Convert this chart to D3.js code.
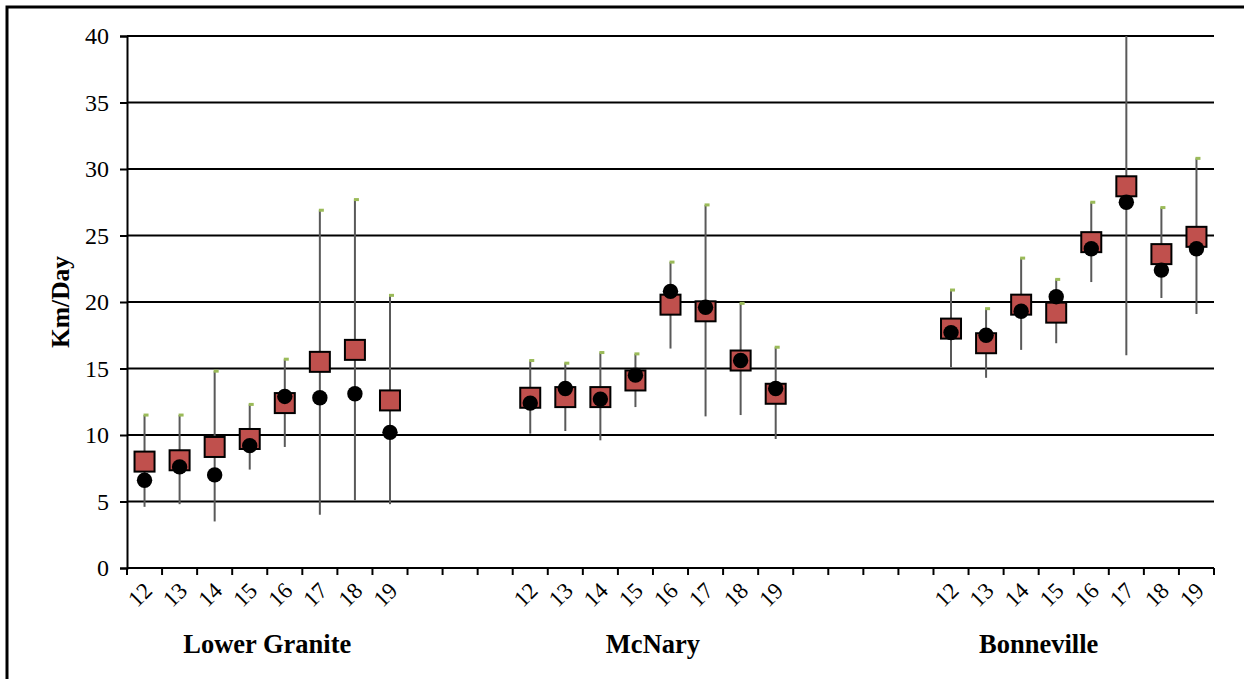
<!DOCTYPE html>
<html>
<head>
<meta charset="utf-8">
<script src="https://cdn.jsdelivr.net/npm/d3@7"></script>
<style>
  html, body { margin: 0; padding: 0; background: #fff; }
  svg { display: block; }
</style>
</head>
<body>
<svg id="chart" width="1244" height="679"></svg>
<script>
// ---- data ----
const years = ["12", "13", "14", "15", "16", "17", "18", "19"];
const groups = ["Lower Granite", "McNary", "Bonneville"];
// category slots along the x axis ("" = empty spacer slot)
const categories = [
  "12","13","14","15","16","17","18","19", "", "", "",
  "12","13","14","15","16","17","18","19", "", "", "", "",
  "12","13","14","15","16","17","18","19"
];
// red squares
const squareLG = [8.0, 8.1, 9.1, 9.7, 12.4, 15.5, 16.4, 12.6];
const squareMN = [12.8, 12.85, 12.85, 14.1, 19.8, 19.3, 15.6, 13.1];
const squareBV = [18.0, 16.9, 19.8, 19.2, 24.5, 28.7, 23.6, 24.9];
// black circles
const circleLG = [6.6, 7.6, 7.0, 9.2, 12.9, 12.8, 13.1, 10.2];
const circleMN = [12.4, 13.5, 12.7, 14.5, 20.8, 19.6, 15.6, 13.5];
const circleBV = [17.7, 17.5, 19.3, 20.4, 24.0, 27.5, 22.4, 24.0];
// range lows / highs
const lowLG = [4.6, 4.8, 3.5, 7.4, 9.1, 4.0, 5.1, 4.8];
const lowMN = [10.1, 10.3, 9.6, 12.1, 16.5, 11.4, 11.5, 9.7];
const lowBV = [15.1, 14.3, 16.4, 16.9, 21.5, 16.0, 20.3, 19.1];
const highLG = [11.5, 11.5, 14.8, 12.3, 15.7, 26.9, 27.7, 20.5];
const highMN = [15.6, 15.4, 16.2, 16.1, 23.0, 27.3, 19.9, 16.6];
const highBV = [20.9, 19.5, 23.3, 21.7, 27.5, 44.0, 27.1, 30.8];
const yTicks = [0, 5, 10, 15, 20, 25, 30, 35, 40];
const yTitle = "Km/Day";

// ---- build rows ----
const seriesByGroup = [
  {sq: squareLG, ci: circleLG, lo: lowLG, hi: highLG},
  {sq: squareMN, ci: circleMN, lo: lowMN, hi: highMN},
  {sq: squareBV, ci: circleBV, lo: lowBV, hi: highBV}
];
const slotIdx = [];
{
  let g = -1, prevBlank = true;
  categories.forEach((c, i) => {
    if (c !== "") {
      if (prevBlank) { g++; slotIdx[g] = []; }
      slotIdx[g].push(i);
      prevBlank = false;
    } else prevBlank = true;
  });
}
const rows = [];
groups.forEach((gName, g) => {
  years.forEach((yr, j) => {
    const s = seriesByGroup[g];
    rows.push({slot: slotIdx[g][j], sq: s.sq[j], ci: s.ci[j], lo: s.lo[j], hi: s.hi[j]});
  });
});

// ---- layout ----
const svg = d3.select("#chart");
const L = 127, R = 1214, T = 36, B = 568;
const serif = "'Liberation Serif', 'Times New Roman', serif";

const x = d3.scaleBand().domain(d3.range(categories.length)).range([L, R]).padding(0);
const y = d3.scaleLinear().domain([0, 40]).range([B, T]);

// outer border
svg.append("rect").attr("x", 7).attr("y", 7).attr("width", 1260).attr("height", 700)
  .attr("fill", "none").attr("stroke", "#000").attr("stroke-width", 3);

// gridlines
svg.append("g").selectAll("line").data(yTicks.filter(d => d > 0)).join("line")
  .attr("x1", L).attr("x2", R).attr("y1", d => y(d)).attr("y2", d => y(d))
  .attr("stroke", "#000").attr("stroke-width", 2);

// y axis
const yAxis = svg.append("g").attr("transform", `translate(${L},0)`)
  .call(d3.axisLeft(y).tickValues(yTicks).tickSize(7).tickPadding(11).tickFormat(d3.format("d")));
yAxis.select(".domain").attr("stroke", "#000").attr("stroke-width", 2);
yAxis.selectAll(".tick line").attr("stroke", "#000").attr("stroke-width", 2);
yAxis.selectAll(".tick text").attr("font-family", serif)
  .attr("font-size", 24).attr("fill", "#000");

// x axis
const xAxisG = svg.append("g").attr("transform", `translate(0,${B})`);
xAxisG.append("line").attr("x1", L).attr("x2", R).attr("y1", 0).attr("y2", 0)
  .attr("stroke", "#000").attr("stroke-width", 2);
const bounds = d3.range(categories.length + 1).map(i => i < categories.length ? x(i) : x(i - 1) + x.bandwidth());
xAxisG.selectAll("line.t").data(bounds).join("line").attr("class", "t")
  .attr("x1", d => d).attr("x2", d => d).attr("y1", 0).attr("y2", 7)
  .attr("stroke", "#000").attr("stroke-width", 2);
xAxisG.selectAll("text.cat").data(categories.map((c, i) => ({c, i})).filter(d => d.c !== "")).join("text")
  .attr("class", "cat")
  .attr("transform", d => `translate(${x(d.i) + x.bandwidth() / 2 + 9},${24}) rotate(-45)`)
  .attr("text-anchor", "end")
  .attr("font-family", serif)
  .attr("font-size", 23).attr("fill", "#000")
  .text(d => d.c);

// group labels
const groupSpan = [
  [slotIdx[0][0], slotIdx[0][7] + 1],
  [slotIdx[1][0], slotIdx[1][7] + 1],
  [slotIdx[2][0] - 2, slotIdx[2][7] + 1]
];
svg.append("g").selectAll("text").data(groups).join("text")
  .attr("x", (d, g) => (x(groupSpan[g][0]) + (x(groupSpan[g][1] - 1) + x.bandwidth())) / 2)
  .attr("y", 653)
  .attr("text-anchor", "middle")
  .attr("font-family", serif)
  .attr("font-weight", "bold").attr("font-size", 26.5).attr("fill", "#000")
  .text(d => d);

// y title
svg.append("text")
  .attr("transform", `translate(69,${(T + B) / 2}) rotate(-90)`)
  .attr("text-anchor", "middle")
  .attr("font-family", serif)
  .attr("font-weight", "bold").attr("font-size", 25.5).attr("fill", "#000")
  .text(yTitle);

// clip to plot
svg.append("clipPath").attr("id", "plot").append("rect")
  .attr("x", L).attr("y", T).attr("width", R - L).attr("height", B - T);
const plot = svg.append("g").attr("clip-path", "url(#plot)");
const cx = d => x(d.slot) + x.bandwidth() / 2;

// range lines
plot.selectAll("line.rng").data(rows).join("line").attr("class", "rng")
  .attr("x1", cx).attr("x2", cx).attr("y1", d => y(d.lo)).attr("y2", d => y(d.hi))
  .attr("stroke", "#595959").attr("stroke-width", 2);
// green caps
plot.selectAll("rect.cap").data(rows).join("rect").attr("class", "cap")
  .attr("x", d => cx(d) - 1).attr("y", d => y(d.hi) - 1.5).attr("width", 5).attr("height", 3)
  .attr("fill", "#9bbb59");
// squares
plot.selectAll("rect.sq").data(rows).join("rect").attr("class", "sq")
  .attr("x", d => cx(d) - 10).attr("y", d => y(d.sq) - 10).attr("width", 20).attr("height", 20)
  .attr("fill", "#c0504d").attr("stroke", "#000").attr("stroke-width", 2);
// circles
plot.selectAll("circle.ci").data(rows).join("circle").attr("class", "ci")
  .attr("cx", cx).attr("cy", d => y(d.ci)).attr("r", 7.7)
  .attr("fill", "#000");
</script>
</body>
</html>
